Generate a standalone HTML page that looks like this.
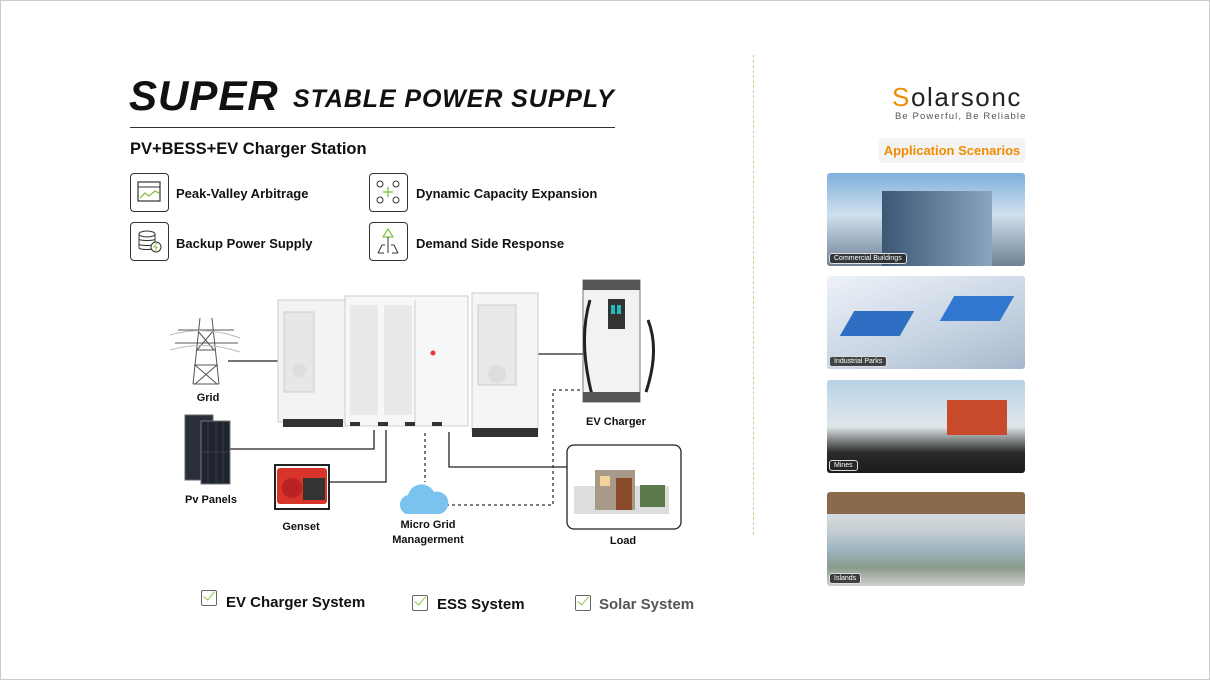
<!DOCTYPE html>
<html><head><meta charset="utf-8"><style>
*{margin:0;padding:0;box-sizing:border-box}
body{width:1210px;height:680px;background:#fff;position:relative;overflow:hidden;font-family:"Liberation Sans",sans-serif;color:#111}
.a{position:absolute}
.b{font-weight:bold}
.ib{position:absolute;width:39px;height:39px;border:1.5px solid #333;border-radius:4px;background:#fff}
.ft{position:absolute;font-size:13px;font-weight:bold}
.lbl{position:absolute;font-size:11px;font-weight:bold;text-align:center;white-space:nowrap}
.ph{position:absolute;left:827px;width:198px;border-radius:3px;overflow:hidden}
.tag{position:absolute;left:2px;bottom:2px;background:rgba(40,40,40,.85);color:#fff;font-size:7px;padding:1px 4px;border-radius:3px;border:1px solid #ddd}
.cb{position:absolute;width:16px;height:16px;border:1.5px solid #666;border-radius:2px}
.cb:after{content:"";position:absolute;left:4px;top:-2px;width:5px;height:10px;border-right:1.5px solid #8bc34a;border-bottom:1.5px solid #8bc34a;transform:rotate(40deg)}
.st{position:absolute;font-size:15px;font-weight:bold}
</style></head><body>
<div class="a" style="left:0;top:0;width:1210px;height:680px;border:1px solid #ccc"></div>
<div class="a b" style="left:129px;top:72px;font-size:42px;font-style:italic;letter-spacing:1px">SUPER</div>
<div class="a b" style="left:293px;top:85px;font-size:25px;font-style:italic;letter-spacing:0.9px">STABLE POWER SUPPLY</div>
<div class="a" style="left:130px;top:127px;width:485px;height:1px;background:#333"></div>
<div class="a b" style="left:130px;top:140px;font-size:16.5px">PV+BESS+EV Charger Station</div>

<div class="ib" style="left:130px;top:173px"><svg width="36" height="36"><rect x="7" y="8" width="22" height="19" fill="none" stroke="#333" stroke-width="1.2"/><line x1="7" y1="13" x2="29" y2="13" stroke="#333"/><polyline points="9,24 14,19 18,22 24,17 28,19" fill="none" stroke="#8bc34a" stroke-width="1.3"/></svg></div>
<div class="ft" style="left:176px;top:186px">Peak-Valley Arbitrage</div>
<div class="ib" style="left:130px;top:222px"><svg width="36" height="36"><ellipse cx="16" cy="11" rx="8" ry="3" fill="none" stroke="#333"/><path d="M8 11v14c0 2 16 2 16 0V11M8 16c0 2 16 2 16 0M8 21c0 2 16 2 16 0" fill="none" stroke="#333"/><circle cx="25" cy="24" r="5" fill="#fff" stroke="#333"/><path d="M26 20l-3 4h3l-2 4" stroke="#8bc34a" fill="none"/></svg></div>
<div class="ft" style="left:176px;top:236px">Backup Power Supply</div>
<div class="ib" style="left:369px;top:173px"><svg width="36" height="36"><g fill="none" stroke="#333"><circle cx="10" cy="10" r="3"/><circle cx="26" cy="10" r="3"/><circle cx="10" cy="26" r="3"/><circle cx="26" cy="26" r="3"/></g><path d="M18 13v10M13 18h10" stroke="#8bc34a" stroke-width="1.5"/></svg></div>
<div class="ft" style="left:416px;top:186px">Dynamic Capacity Expansion</div>
<div class="ib" style="left:369px;top:222px"><svg width="36" height="36"><path d="M18 6l-5 8h10z" fill="none" stroke="#8bc34a" stroke-width="1.3"/><path d="M18 14v16M8 30l4-8M28 30l-4-8M8 30h6M22 30h6M12 22h3M21 22h3" stroke="#333" fill="none"/></svg></div>
<div class="ft" style="left:416px;top:236px">Demand Side Response</div>

<svg class="a" style="left:0;top:0" width="760" height="560">
<g stroke="#222" stroke-width="1.3" fill="none">
<line x1="228" y1="361" x2="280" y2="361"/>
<line x1="538" y1="354" x2="583" y2="354"/>
<polyline points="230,449 374,449 374,430"/>
<polyline points="328,482 386,482 386,430"/>
<polyline points="449,432 449,467 567,467"/>
</g>
<g stroke="#333" stroke-width="1.3" fill="none" stroke-dasharray="3,3">
<line x1="425" y1="433" x2="425" y2="482"/>
<polyline points="446,505 553,505 553,390 583,390"/>
</g>
<g stroke="#555" stroke-width="1" fill="none">
<path d="M200 318 L193 384 M212 318 L219 384 M193 384 L219 384 M196 350 L216 350 M178 330 L234 330 M175 343 L238 343 M197 330 L214 350 M214 330 L197 350 M194 365 L218 365 M195 365 L217 384 M217 365 L195 384"/>
<path d="M170 335 Q205 325 240 338 M170 350 Q205 340 240 352" stroke="#bbb"/>
</g>
<rect x="185" y="415" width="28" height="65" fill="#2a2f3a" stroke="#666"/>
<rect x="201" y="421" width="29" height="63" fill="#1f2430" stroke="#777"/>
<g stroke="#555" stroke-width=".5"><line x1="208" y1="421" x2="208" y2="484"/><line x1="216" y1="421" x2="216" y2="484"/><line x1="223" y1="421" x2="223" y2="484"/><line x1="201" y1="452" x2="230" y2="452"/></g>
<rect x="277" y="468" width="50" height="36" fill="#d8342a" rx="3"/>
<circle cx="292" cy="488" r="10" fill="#b22"/>
<rect x="303" y="478" width="22" height="22" fill="#333"/>
<path d="M275 465h54v44h-54z" fill="none" stroke="#222" stroke-width="2"/>
<path d="M406 514 a10 10 0 0 1 2 -19 a14 14 0 0 1 26 -3 a11 11 0 0 1 6 22 z" fill="#79c3ee"/>
<rect x="567" y="445" width="114" height="84" rx="7" fill="#fff" stroke="#222" stroke-width="1.3"/>
<rect x="574" y="486" width="95" height="28" fill="#ddd"/>
<rect x="595" y="470" width="40" height="40" fill="#a89a88"/>
<rect x="616" y="478" width="16" height="32" fill="#8a4a2a"/>
<rect x="600" y="476" width="10" height="10" fill="#f4d39a"/>
<rect x="640" y="485" width="25" height="22" fill="#5a7a4a"/>
<rect x="278" y="300" width="68" height="122" fill="#f3f3f3" stroke="#ccc"/>
<rect x="284" y="312" width="30" height="80" fill="#e7e7e7" stroke="#ccc"/>
<circle cx="299" cy="370" r="7" fill="#ddd"/>
<rect x="283" y="419" width="60" height="8" fill="#333"/>
<rect x="345" y="296" width="123" height="130" fill="#f7f7f7" stroke="#ccc"/>
<rect x="350" y="305" width="28" height="110" fill="#e9e9e9"/>
<rect x="384" y="305" width="28" height="110" fill="#e9e9e9"/>
<line x1="415" y1="300" x2="415" y2="425" stroke="#ccc"/>
<circle cx="433" cy="353" r="2.5" fill="#e33"/>
<rect x="350" y="422" width="10" height="4" fill="#333"/><rect x="378" y="422" width="10" height="4" fill="#333"/><rect x="405" y="422" width="10" height="4" fill="#333"/><rect x="432" y="422" width="10" height="4" fill="#333"/>
<rect x="472" y="293" width="66" height="138" fill="#f5f5f5" stroke="#ccc"/>
<rect x="478" y="305" width="38" height="80" fill="#e8e8e8" stroke="#ccc"/>
<circle cx="497" cy="374" r="9" fill="#ddd"/>
<rect x="472" y="428" width="66" height="9" fill="#333"/>
<rect x="583" y="280" width="57" height="122" fill="#f2f2f2" stroke="#777"/>
<rect x="583" y="280" width="57" height="10" fill="#555"/>
<rect x="608" y="299" width="17" height="30" fill="#333"/>
<rect x="611" y="305" width="4" height="9" fill="#2bb"/><rect x="617" y="305" width="4" height="9" fill="#2bb"/>
<path d="M590 300 Q578 340 592 395 M648 320 Q660 350 646 392" stroke="#222" stroke-width="3" fill="none"/>
<rect x="583" y="392" width="57" height="10" fill="#555"/>
</svg>

<div class="lbl" style="left:188px;top:392px;width:40px">Grid</div>
<div class="lbl" style="left:180px;top:494px;width:62px">Pv Panels</div>
<div class="lbl" style="left:276px;top:521px;width:50px">Genset</div>
<div class="lbl" style="left:388px;top:518px;width:80px;line-height:15px">Micro Grid<br>Managerment</div>
<div class="lbl" style="left:580px;top:416px;width:72px">EV Charger</div>
<div class="lbl" style="left:603px;top:535px;width:40px">Load</div>

<div class="cb" style="left:201px;top:590px"></div><div class="st" style="left:226px;top:594px">EV Charger System</div>
<div class="cb" style="left:412px;top:595px"></div><div class="st" style="left:437px;top:596px">ESS System</div>
<div class="cb" style="left:575px;top:595px"></div><div class="st" style="left:599px;top:596px;color:#555">Solar System</div>

<div class="a" style="left:753px;top:55px;width:0;height:480px;border-left:1.5px dashed #b9d89a"></div>

<div class="a" style="left:892px;top:82px;font-size:26px;letter-spacing:1.6px;color:#222"><span style="color:#f08c00">S</span>olarsonc</div>
<div class="a" style="left:895px;top:111px;font-size:9.5px;color:#555;letter-spacing:1.1px">Be Powerful, Be Reliable</div>
<div class="a b" style="left:879px;top:138px;width:146px;height:25px;background:#f3f3f3;border-radius:4px;color:#f08c00;font-size:13px;text-align:center;line-height:25px">Application Scenarios</div>

<div class="ph" style="top:173px;height:93px;background:linear-gradient(180deg,#7fb0dc 0%,#cfe0ee 45%,#6f8294 100%)"><div class="a" style="left:55px;top:18px;width:110px;height:75px;background:linear-gradient(90deg,#3b5775,#8aa5bf);"></div><div class="tag">Commercial Buildings</div></div>
<div class="ph" style="top:276px;height:93px;background:linear-gradient(160deg,#eef2f8,#c6d3e2 60%,#a8b8cc)"><div class="a" style="left:20px;top:35px;width:60px;height:25px;background:#2e6fc4;transform:skewX(-30deg)"></div><div class="a" style="left:120px;top:20px;width:60px;height:25px;background:#3177cf;transform:skewX(-30deg)"></div><div class="tag">Industrial Parks</div></div>
<div class="ph" style="top:380px;height:93px;background:linear-gradient(180deg,#b8d3e6 0%,#dfe7ea 50%,#2c2b2a 78%,#1b1b1b 100%)"><div class="a" style="left:120px;top:20px;width:60px;height:35px;background:#c84a2a"></div><div class="tag">Mines</div></div>
<div class="ph" style="top:492px;height:94px;background:linear-gradient(180deg,#e9ecee 0%,#c8cfd3 40%,#9fb7c5 60%,#8a9a8a 80%,#cfcfcf 100%)"><div class="a" style="left:0;top:0;width:198px;height:22px;background:#8a6a4a"></div><div class="tag">Islands</div></div>
</body></html>
